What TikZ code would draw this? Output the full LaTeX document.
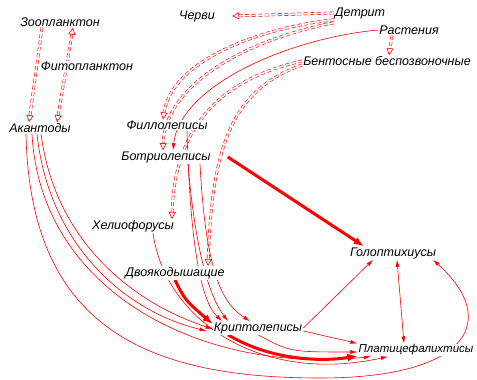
\documentclass[tikz,border=0pt]{standalone}
\usepackage{fontspec}
\setmainfont{Liberation Sans}
\usetikzlibrary{arrows.meta,backgrounds}
\begin{document}
\begin{tikzpicture}[x=1pt,y=-1pt,>={Latex[length=7pt,width=4pt]},
  lbl/.style={font=\itshape\fontsize{12.5}{14}\selectfont, fill=white, inner sep=1pt},
  food/.style={->, draw=red, line width=0.6pt},
  heavy/.style={-{Latex[length=10pt,width=8pt]}, draw=red, line width=3pt},
  dash2/.style={-{Triangle[open,length=7pt,width=7pt]}, draw=red, line width=0.6pt,
    double=white, double distance=1.6pt, dash pattern=on 4pt off 2.5pt}]
\useasboundingbox (0,0) rectangle (477,380);
\node[lbl] (zoo) at (60,22) {Зоопланктон};
\node[lbl] (phy) at (87,66) {Фитопланктон};
\node[lbl] (aka) at (40,128) {Акантоды};
\node[lbl] (cher) at (197,16) {Черви};
\node[lbl] (det) at (360,13) {Детрит};
\node[lbl] (ras) at (409,30) {Растения};
\node[lbl] (ben) at (387,61) {Бентосные беспозвоночные};
\node[lbl] (phl) at (167,125) {Филлолеписы};
\node[lbl] (bot) at (166,157) {Ботриолеписы};
\node[lbl] (hel) at (133,226) {Хелиофорусы};
\node[lbl] (dvo) at (175,273) {Двоякодышащие};
\node[lbl] (gol) at (393,253) {Голоптихиусы};
\node[lbl] (kri) at (258,328) {Криптолеписы};
\node[lbl,font=\itshape\fontsize{11.5}{13}\selectfont] (pla) at (416,350) {Платицефалихтисы};
\begin{scope}[on background layer]
% plankton and detritus
\draw[dash2] ([xshift=-18pt]zoo.south) -- ([xshift=-11pt]aka.north);
\draw[dash2,{Triangle[open,length=7pt,width=7pt]}-{Triangle[open,length=7pt,width=7pt]}]
  ([xshift=13pt]zoo.south) -- ([xshift=17pt]aka.north);
\draw[dash2] (det.west) -- ([xshift=16pt]cher.east);
\draw[dash2] ([xshift=-17pt]ras.south) -- ([xshift=2pt]ben.north);
\draw[dash2] (det.south west) .. controls (260,28) and (172,60) .. ([xshift=-4pt]phl.north);
\draw[dash2] ([yshift=-3pt]det.south west) .. controls (245,40) and (165,85) .. ([xshift=-3pt]bot.north);
\draw[dash2] (ben.west) .. controls (240,75) and (175,110) .. ([xshift=39pt]hel.north);
\draw[dash2] ([yshift=-4pt]ben.west) .. controls (230,90) and (212,150) .. ([xshift=33pt]dvo.north);
% thin links
\draw[food] (ras.west) .. controls (290,38) and (180,85) .. ([xshift=7pt]bot.north);
\draw[food] ([xshift=20pt]phl.south) .. controls (190,240) and (200,300) .. ([xshift=-36pt]kri.north);
\draw[food] ([xshift=22pt]bot.south) .. controls (196,260) and (212,300) .. ([xshift=-30pt]kri.north);
\draw[food] ([xshift=34pt]bot.south) .. controls (206,280) and (225,305) .. ([xshift=-8pt]kri.north);
\draw[food] ([xshift=20pt]hel.south) .. controls (165,320) and (260,385) .. ([xshift=-28pt]pla.south);
\draw[food] ([xshift=-3pt]aka.south) .. controls (48,240) and (120,310) .. ([xshift=-6pt,yshift=-3pt]kri.west);
\draw[food] ([xshift=1pt]aka.south) .. controls (54,235) and (125,300) .. ([yshift=-1pt]kri.west);
\draw[food] ([xshift=-8pt]aka.south) .. controls (40,290) and (200,375) .. ([xshift=-45pt]pla.south);
\draw[food] ([xshift=-14pt]aka.south) .. controls (30,330) and (150,378) .. (320,378)
  .. controls (470,378) and (500,320) .. ([xshift=40pt]gol.south);
\draw[food] (kri.east) -- ([xshift=-20pt]gol.south);
\draw[food] ([yshift=-3pt]kri.east) -- (pla.north west);
\draw[food] (kri.south) .. controls (290,352) .. ([yshift=-2pt]pla.west);
\draw[food,<->] ([xshift=4pt]gol.south) -- ([xshift=-12pt]pla.north);
% heavy links
\draw[heavy] ([xshift=16pt]bot.east) -- ([xshift=15pt]gol.north west);
\draw[heavy] (dvo.south) .. controls (185,300) .. ([yshift=4pt]kri.west);
\draw[heavy] ([xshift=-30pt]kri.south) .. controls (270,360) and (320,362) .. ([yshift=-6pt]pla.west);
\end{scope}
\end{tikzpicture}
\end{document}
